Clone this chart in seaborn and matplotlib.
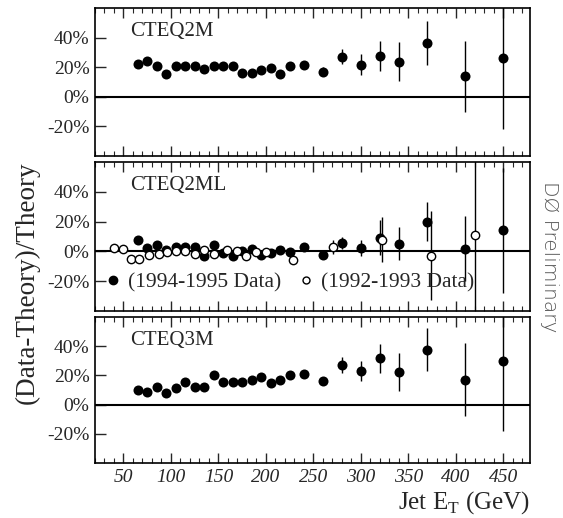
import numpy as np
import pandas as pd
import matplotlib
matplotlib.use("Agg")
import matplotlib.pyplot as plt
from matplotlib.lines import Line2D
from matplotlib.ticker import FixedLocator, MultipleLocator, FuncFormatter
import seaborn as sns

# ---------------- data ----------------
et_9495 = [65, 75, 85, 95, 105, 115, 125, 135, 145, 155, 165, 175, 185, 195, 205,
           215, 225, 240, 260, 280, 300, 320, 340, 370, 410, 450]

cteq2m = [22.3, 24.4, 20.5, 15.2, 20.5, 20.5, 20.5, 18.9, 20.5, 20.5, 20.5, 15.9, 15.9,
          18.2, 19.3, 15.2, 21.1, 21.8, 17.0, 27.1, 21.8, 27.6, 23.7, 36.3, 13.8, 26.2]
cteq2m_err = [1, 1, 1, 1, 1, 1, 1, 1, 1, 1, 1, 1.2, 1.2, 1.2, 1.3, 1.4, 1.5, 2, 3, 5,
              7, 10, 13, 15, 24, 48]

cteq2ml = [7.9, 2.0, 4.0, 1.1, 2.7, 2.7, 2.7, -2.9, 4.5, -1.1, -3.4, 0.0, 1.6, -2.3,
           -1.4, 0.7, -0.5, 2.7, -2.5, 5.4, 2.3, 9.3, 5.2, 19.9, 1.8, 14.2]
cteq2ml_err = [1, 1, 1, 1, 1, 1, 1, 1, 1, 1, 1, 1.2, 1.2, 1.2, 1.3, 1.4, 1.5, 2, 2.5, 4,
               5.6, 12, 11, 13, 22, 42]

et_9293 = [40, 49, 58, 66, 77, 87, 96, 105, 115, 125, 135, 145, 159, 169, 179, 190,
           200, 228, 271, 322, 374, 420]
cteq2ml_9293 = [2.3, 1.6, -5.0, -5.0, -2.7, -1.6, -0.5, 0.0, 0.5, -1.6, 0.7, -1.6, 1.1,
                0.0, -2.9, -0.7, -0.5, -5.6, 2.9, 7.9, -2.9, 10.8]
cteq2ml_9293_err = [1, 1, 1, 1, 1, 1, 1, 1, 1, 1, 1, 1, 1.2, 1.2, 1.3, 1.4, 1.5, 2,
                    4.5, 15, 30, 55]

cteq3m = [10.3, 8.7, 12.3, 8.0, 11.7, 15.3, 11.9, 11.9, 20.1, 15.3, 15.3, 15.3, 17.1,
          18.7, 14.6, 17.1, 20.1, 21.3, 16.2, 27.2, 23.1, 31.8, 22.6, 37.7, 16.9, 29.7]
cteq3m_err = [1, 1, 1, 1, 1, 1, 1, 1, 1, 1, 1, 1.2, 1.2, 1.2, 1.3, 1.4, 1.5, 2, 3, 5.5,
              7, 10, 13, 15, 25, 48]

panel_names = ["CTEQ2M", "CTEQ2ML", "CTEQ3M"]
ytick_values = [-20, 0, 20, 40]
xtick_values = [50, 100, 150, 200, 250, 300, 350, 400, 450]
xtick_labels = ["50", "100", "150", "200", "250", "300", "350", "400", "450"]
legend_labels = ["(1994-1995 Data)", "(1992-1993 Data)"]

# ---------------- style ----------------
sns.set_style("ticks")
plt.rcParams["font.family"] = ["Liberation Serif", "DejaVu Serif"]
plt.rcParams["mathtext.fontset"] = "custom"
plt.rcParams["mathtext.rm"] = "Liberation Serif"

W, H = 563, 518
fig = plt.figure(figsize=(W / 100, H / 100), dpi=100)


def axpos(top, bottom, left=95, right=530):
    return [left / W, 1 - bottom / H, (right - left) / W, (bottom - top) / H]


axes = [fig.add_axes(axpos(8, 156)), fig.add_axes(axpos(162, 311)),
        fig.add_axes(axpos(317, 463))]

series = [(cteq2m, cteq2m_err), (cteq2ml, cteq2ml_err), (cteq3m, cteq3m_err)]

for i, (ax, (vals, errs)) in enumerate(zip(axes, series)):
    df = pd.DataFrame({"et": et_9495, "val": vals, "err": errs})
    ax.errorbar(df["et"], df["val"], yerr=df["err"], fmt="none", ecolor="black",
                elinewidth=1.0, capsize=0, zorder=2)
    sns.scatterplot(data=df, x="et", y="val", ax=ax, color="black", s=52,
                    linewidth=0, zorder=4, legend=False)
    if i == 1:
        df2 = pd.DataFrame({"et": et_9293, "val": cteq2ml_9293, "err": cteq2ml_9293_err})
        ax.errorbar(df2["et"], df2["val"], yerr=df2["err"], fmt="none", ecolor="black",
                    elinewidth=1.0, capsize=0, zorder=2)
        sns.scatterplot(data=df2, x="et", y="val", ax=ax, facecolor="white",
                        edgecolor="black", linewidth=1.0, s=36, zorder=5, legend=False)
        handles = [Line2D([], [], ls="none", marker="o", color="black", markersize=6),
                   Line2D([], [], ls="none", marker="o", markerfacecolor="white",
                          markeredgecolor="black", markersize=5)]
        ax.legend(handles, legend_labels, ncol=2, frameon=False, loc="center left",
                  bbox_to_anchor=(0.022, 0.19), borderaxespad=0, borderpad=0,
                  handlelength=0.8, handletextpad=0.3, columnspacing=0.75,
                  fontsize=15.5)

    ax.axhline(0, color="black", lw=1.5, zorder=3)
    ax.set_xlim(20, 478)
    ax.set_ylim(-40, 60)
    ax.yaxis.set_major_locator(FixedLocator(ytick_values))
    ax.yaxis.set_major_formatter(FuncFormatter(lambda v, p: f"{int(v)}%"))
    ax.set_xticks(xtick_values)
    ax.xaxis.set_minor_locator(MultipleLocator(10))
    if i == 2:
        ax.set_xticklabels(xtick_labels, fontstyle="italic")
    else:
        ax.set_xticklabels([])
    ax.tick_params(axis="x", which="major", direction="in", length=7, width=1,
                   top=True, labelsize=14, pad=4)
    ax.tick_params(axis="x", which="minor", direction="in", length=3.5, width=0.8,
                   top=True)
    ax.tick_params(axis="y", which="major", direction="in", length=8, width=1,
                   labelsize=14, pad=4)
    ax.set_xlabel("")
    ax.set_ylabel("")
    for sp in ax.spines.values():
        sp.set_visible(True)
        sp.set_linewidth(1.2)
        sp.set_color("black")
    ax.text(57, 44, panel_names[i], fontsize=15, va="center", ha="left")

fig.text(27 / W, 1 - 283 / H, "(Data-Theory)/Theory", rotation=90, ha="center",
         va="center", fontsize=19.5)
fig.text(530 / W, 1 - 509 / H, "Jet E$_\\mathrm{T}$ (GeV)", ha="right",
         va="baseline", fontsize=18)
fig.text(549 / W, 1 - 257 / H, "DØ Preliminary", rotation=270, ha="center",
         va="center", fontsize=14.5, color="#555555", family=["DejaVu Sans"],
         fontweight="light")

fig.savefig("out.png", dpi=100, facecolor="white")
